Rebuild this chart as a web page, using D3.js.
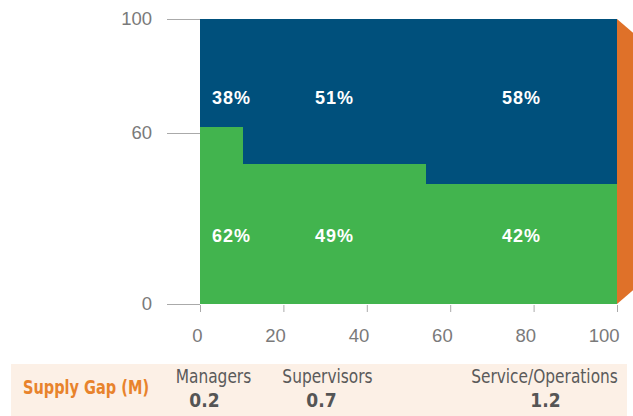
<!DOCTYPE html>
<html>
<head>
<meta charset="utf-8">
<script src="https://cdn.jsdelivr.net/npm/d3@7"></script>
<style>
  body { margin: 0; background: #fff; }
  .axis text { font-family: "Liberation Sans", Arial, sans-serif; font-size: 18.5px; fill: #7a7a7a; }
  .axis line { stroke: #aaa; }
  .band text { font-family: "DejaVu Sans Condensed", "DejaVu Sans", sans-serif; }
</style>
</head>
<body>
<div id="chart"></div>
<script>
// data
var categories = ["Managers", "Supervisors", "Service/Operations"]
var colWidths = [10.3, 43.9, 45.8]      // share of the x axis (sums to 100)
var greenShare = [62, 49, 42]
var blueShare = [38, 51, 58]
var supplyGap = [0.2, 0.7, 1.2]
var xTicks = [0, 20, 40, 60, 80, 100]
var yTicks = [0, 60, 100]

var W = 633, H = 416
var margin = {top: 19, right: 16, bottom: 112, left: 200}

var svg = d3.select("#chart")
  .append("svg")
  .attr("width", W)
  .attr("height", H)

var x = d3.scaleLinear().domain([0, 100]).range([margin.left, W - margin.right])
var y = d3.scaleLinear().domain([0, 100]).range([H - margin.bottom, margin.top])

// build the columns from the widths
var cols = []
var acc = 0
categories.forEach(function(c, i) {
  cols.push({name: c, x0: acc, x1: acc + colWidths[i], green: greenShare[i], blue: blueShare[i], gap: supplyGap[i]})
  acc += colWidths[i]
})

// orange arrow behind the right edge
svg.append("path")
  .attr("d", "M" + x(100) + "," + y(100) +
             "L" + (x(100) + 30) + "," + (y(100) + 26) +
             "L" + (x(100) + 30) + "," + (y(0) - 26) +
             "L" + x(100) + "," + y(0) + "Z")
  .attr("fill", "#df7129")

// green segments
svg.append("g").selectAll("rect")
  .data(cols).enter().append("rect")
  .attr("x", function(d) { return x(d.x0) })
  .attr("width", function(d) { return x(d.x1) - x(d.x0) })
  .attr("y", function(d) { return y(d.green) })
  .attr("height", function(d) { return y(0) - y(d.green) })
  .attr("fill", "#42b44e")
  .attr("shape-rendering", "crispEdges")

// blue segments
svg.append("g").selectAll("rect")
  .data(cols).enter().append("rect")
  .attr("x", function(d) { return x(d.x0) })
  .attr("width", function(d) { return x(d.x1) - x(d.x0) })
  .attr("y", y(100))
  .attr("height", function(d) { return y(d.green) - y(100) })
  .attr("fill", "#00507c")
  .attr("shape-rendering", "crispEdges")

// percentage labels, two fixed rows
function labelX(d) {
  return (x(d.x1) - x(d.x0)) < 60 ? x(d.x0) + 12 : (x(d.x0) + x(d.x1)) / 2
}
function labelAnchor(d) {
  return (x(d.x1) - x(d.x0)) < 60 ? "start" : "middle"
}
var rows = [{key: "blue", at: 72.5}, {key: "green", at: 24}]
rows.forEach(function(r) {
  svg.append("g").selectAll("text")
    .data(cols).enter().append("text")
    .attr("x", labelX)
    .attr("y", y(r.at))
    .attr("dy", "0.35em")
    .attr("text-anchor", labelAnchor)
    .attr("fill", "#fff")
    .attr("font-family", "Liberation Sans, Arial, sans-serif")
    .attr("font-weight", "bold")
    .attr("font-size", "18px")
    .attr("letter-spacing", "1px")
    .text(function(d) { return d[r.key] + "%" })
})

// y axis: only the short grey ticks on the left
var yAxis = svg.append("g")
  .attr("class", "axis")
  .attr("transform", "translate(" + margin.left + ",0)")
  .call(d3.axisLeft(y).tickValues(yTicks).tickSize(33).tickPadding(15))
yAxis.select(".domain").remove()

// x axis: small tick marks, labels end-aligned at the tick
var xAxis = svg.append("g")
  .attr("class", "axis")
  .attr("transform", "translate(0," + (y(0) + 1) + ")")
  .call(d3.axisBottom(x).tickValues(xTicks).tickSize(7).tickPadding(17))
xAxis.select(".domain").remove()
xAxis.selectAll("text").attr("text-anchor", "end").attr("x", 2)

// squeeze text sideways to mimic the condensed face of the original
function condense(sel, k) {
  sel.each(function() {
    var w = this.getComputedTextLength()
    d3.select(this).attr("textLength", w * k).attr("lengthAdjust", "spacingAndGlyphs")
  })
}

// supply gap band
var band = svg.append("g").attr("class", "band")
band.append("rect")
  .attr("x", 11).attr("y", 364)
  .attr("width", 616).attr("height", 52)
  .attr("fill", "#fcf0e6")
band.append("text")
  .attr("x", 23).attr("y", 394)
  .attr("fill", "#e8832c")
  .attr("font-weight", "bold")
  .attr("font-size", "19px")
  .text("Supply Gap (M)")
  .call(condense, 0.85)

// band labels sit near each column, nudged as in the original
var nameShift = [-8, -7, 23]
var valueShift = [-17, -13, 24]
band.selectAll(".name")
  .data(cols).enter().append("text")
  .attr("class", "name")
  .attr("x", function(d, i) { return (x(d.x0) + x(d.x1)) / 2 + nameShift[i] })
  .attr("y", 383)
  .attr("text-anchor", "middle")
  .attr("fill", "#5a5a5a")
  .attr("font-size", "19px")
  .text(function(d) { return d.name })
  .call(condense, 0.9)
band.selectAll(".val")
  .data(cols).enter().append("text")
  .attr("class", "val")
  .attr("x", function(d, i) { return (x(d.x0) + x(d.x1)) / 2 + valueShift[i] })
  .attr("y", 407)
  .attr("text-anchor", "middle")
  .attr("fill", "#555")
  .attr("font-weight", "bold")
  .attr("font-size", "19px")
  .text(function(d) { return d.gap })
</script>
</body>
</html>
